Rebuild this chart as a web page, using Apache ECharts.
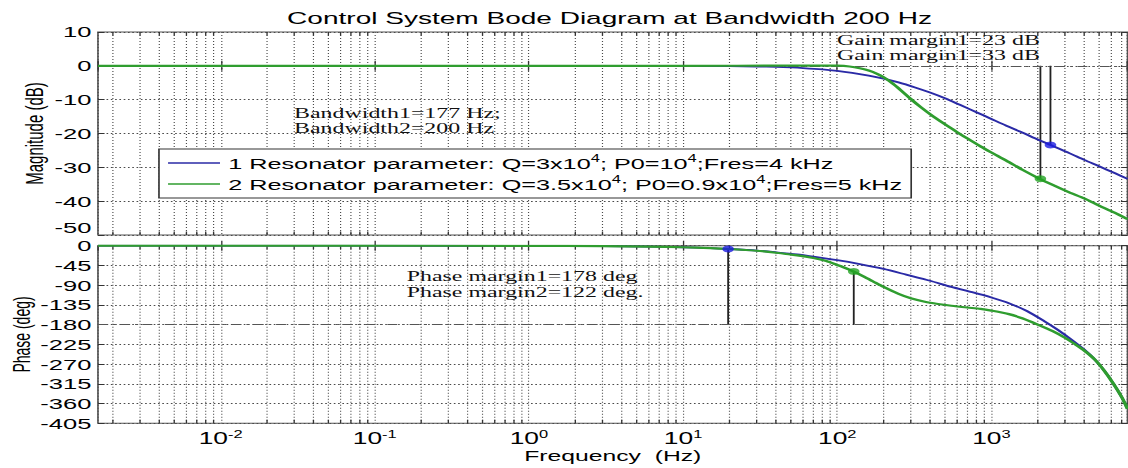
<!DOCTYPE html>
<html>
<head>
<meta charset="utf-8">
<script src="https://cdn.jsdelivr.net/npm/echarts@6/dist/echarts.min.js"></script>
<style>
html,body{margin:0;padding:0;background:#fff;overflow:hidden;}
#wrap{width:1128px;height:468px;overflow:hidden;position:relative;background:#fff;}
#chart{width:684px;height:468px;transform:scaleX(1.6491228);transform-origin:0 0;}
</style>
</head>
<body>
<div id="wrap"><div id="chart"></div></div>
<script>
// ---------------- data ----------------
const titleText = 'Control System Bode Diagram at Bandwidth 200 Hz';
const seriesNames = [
  '1 Resonator parameter: Q=3x10^4; P0=10^4;Fres=4 kHz',
  '2 Resonator parameter: Q=3.5x10^4; P0=0.9x10^4;Fres=5 kHz'
];
const freqRange = [0.0016, 7640];          // Hz
const magRange = [-50, 10];                // dB
const magStep = 10;
const phaseRange = [-405, 0];              // deg
const phaseStep = 45;

const freqMagBlue = [0.0016, 0.1, 1, 10, 20, 30, 40, 50, 60, 80, 100, 125, 160, 200, 250, 320, 400, 500, 630, 800, 1000, 1250, 1600, 2000, 2500, 3200, 4000, 5000, 6300, 7640];
const magBlue =     [0, 0, 0, -0.04, -0.1, -0.2, -0.33, -0.48, -0.66, -1.05, -1.5, -2.1, -2.9, -3.8, -4.9, -6.4, -7.9, -9.6, -11.6, -13.7, -15.7, -17.7, -19.8, -21.8, -23.7, -25.8, -27.8, -29.7, -31.7, -33.4];

const freqMagGreen = [0.0016, 0.1, 1, 10, 50, 80, 100, 120, 140, 160, 180, 200, 230, 260, 300, 350, 420, 500, 600, 700, 850, 1000, 1250, 1600, 2000, 2500, 3200, 4000, 5000, 6300, 7640];
const magGreen =     [0, 0, 0, 0, 0.05, 0.1, 0.05, -0.2, -0.7, -1.4, -2.3, -3.4, -5.3, -7.3, -9.8, -12.3, -15.0, -17.3, -19.6, -21.5, -23.8, -25.6, -28.0, -30.8, -33.1, -35.2, -37.4, -39.2, -41.3, -43.4, -45.3];

const freqPhaseBlue = [0.0016, 0.1, 1, 3, 6, 10, 15, 20, 30, 40, 55, 70, 100, 140, 200, 280, 400, 550, 750, 1000, 1300, 1700, 2200, 2700, 3300, 4000, 4700, 5400, 6200, 7000, 7640];
const phaseBlue =     [0, 0, -0.3, -1, -2, -3.5, -5.5, -7.5, -11, -15, -20, -25, -33, -42, -53, -66, -80, -94, -106, -118, -131, -149, -172, -192, -214, -237, -260, -285, -315, -345, -372];

const freqPhaseGreen = [0.0016, 0.1, 1, 3, 6, 10, 15, 20, 30, 40, 55, 70, 85, 100, 115, 130, 150, 170, 200, 250, 300, 370, 450, 550, 700, 850, 1000, 1300, 1600, 2000, 2500, 3000, 3500, 4000, 4700, 5400, 6200, 7000, 7640];
const phaseGreen =     [0, 0, -0.3, -1, -2, -3.5, -5.5, -7.5, -11.5, -16, -22, -28, -35, -44, -52, -60, -71, -81, -94, -110, -120, -128, -133, -137, -141, -144, -148, -156, -166, -180, -195, -210, -225, -239, -260, -285, -315, -345, -372];

// gain margin points (freq, dB) and phase margin points (freq, deg)
const gmFreq = [2417, 2080];
const gmMag = [-23.4, -33.4];
const pmFreq = [19.6, 128];
const pmPhase = [-7.5, -59];
const refMag = 0;
const refPhase = -180;

const annGain = ['Gain margin1=23 dB', 'Gain margin1=33 dB'];
const annBw = ['Bandwidth1=177 Hz;', 'Bandwidth2=200 Hz'];
const annPm = ['Phase margin1=178 deg', 'Phase margin2=122 deg.'];

// ---------------- style ----------------
const BLUE = '#2a2aa6', GREEN = '#2f9d2f';
const BLUE_M = '#1c1ce0', GREEN_M = '#22a322';
const SANS = '"Liberation Sans", Arial, Helvetica, sans-serif';
const SERIF = '"Liberation Serif", "Times New Roman", serif';
const GRIDC = '#4a4a4a';

const minorFreqs = [];
for (let e = -3; e <= 3; e++) for (let k = 2; k <= 9; k++) {
  const f = k * Math.pow(10, e);
  if (f > freqRange[0] && f < freqRange[1]) minorFreqs.push(f);
}
const zip = (xs, ys) => xs.map((x, i) => [x, ys[i]]);

const chart = echarts.init(document.getElementById('chart'), null, {renderer: 'svg'});

function xAxisDef(gridIndex, pos, withLabels) {
  return {
    type: 'log', logBase: 10, gridIndex, position: pos,
    min: freqRange[0], max: freqRange[1],
    axisLine: {show: false},
    axisTick: {show: true, inside: true, length: 5, lineStyle: {color: '#333', width: 0.8}},
    splitLine: {show: pos === 'bottom', lineStyle: {color: GRIDC, width: 0.7, type: [1, 2]}},
    axisLabel: withLabels ? {
      show: true, margin: 6, color: '#000',
      showMinLabel: false, showMaxLabel: false,
      formatter: v => {
        const e = Math.log10(v), r = Math.round(e);
        if (Math.abs(e - r) > 1e-6) return '';
        return '{b|10}{s|' + r + '}';
      },
      rich: {
        b: {fontSize: 16, fontFamily: SANS, color: '#000', lineHeight: 18},
        s: {fontSize: 10, fontFamily: SANS, color: '#000', lineHeight: 10, verticalAlign: 'top'}
      }
    } : {show: false},
    name: withLabels ? 'Frequency  (Hz)' : '',
    nameLocation: 'middle', nameGap: 25, nameMoveOverlap: false,
    nameTextStyle: {fontSize: 15, fontFamily: SANS, color: '#000'}
  };
}

function yAxisDef(gridIndex, pos, range, step, name, nameGap, nameSize, extraLabel) {
  const left = pos === 'left';
  return {
    type: 'value', gridIndex, position: pos,
    min: range[0], max: range[1], interval: step,
    axisLine: {show: false},
    axisTick: {show: true, inside: true, length: 4, lineStyle: {color: '#333', width: 1}},
    splitLine: {show: left, lineStyle: {color: GRIDC, width: 1, type: [1, 1.6]}},
    axisLabel: left ? Object.assign({show: true, fontSize: 15.5, fontFamily: SANS, color: '#000', margin: 4}, extraLabel || {}) : {show: false},
    name: left ? name : '',
    nameLocation: 'middle', nameGap: nameGap, nameRotate: 90, nameMoveOverlap: false,
    nameTextStyle: {fontSize: nameSize, fontFamily: SANS, color: '#000'}
  };
}

function minorSeries(xi, yi) {
  return {
    type: 'custom', xAxisIndex: xi, yAxisIndex: yi, silent: true, z: 1,
    data: minorFreqs.map(f => [f, 0]),
    renderItem: (params, api) => {
      const x = api.coord([api.value(0), 0])[0];
      const cs = params.coordSys;
      return {type: 'group', children: [
        {type: 'line', shape: {x1: x, y1: cs.y, x2: x, y2: cs.y + cs.height},
          style: {stroke: GRIDC, lineWidth: 0.7, lineDash: [1, 2]}},
        {type: 'line', shape: {x1: x, y1: cs.y, x2: x, y2: cs.y + 3.5}, style: {stroke: '#333', lineWidth: 0.8}},
        {type: 'line', shape: {x1: x, y1: cs.y + cs.height - 3.5, x2: x, y2: cs.y + cs.height}, style: {stroke: '#333', lineWidth: 0.8}}
      ]};
    }
  };
}

function curve(name, xi, yi, xs, ys, color, width) {
  return {
    name, type: 'line', xAxisIndex: xi, yAxisIndex: yi,
    data: zip(xs, ys), symbol: 'none', showSymbol: false,
    smooth: 0.25,
    lineStyle: {color, width}, itemStyle: {color}, z: 5, silent: true
  };
}
function stem(xi, yi, f, y0, y1) {
  return {
    type: 'line', xAxisIndex: xi, yAxisIndex: yi, data: [[f, y0], [f, y1]],
    symbol: 'none', lineStyle: {color: '#222', width: 1.1}, z: 4, silent: true
  };
}
function marker(xi, yi, f, y, color) {
  return {
    type: 'scatter', xAxisIndex: xi, yAxisIndex: yi, data: [[f, y]],
    symbol: 'circle', symbolSize: 7, itemStyle: {color}, z: 7, silent: true
  };
}
const refLine = (val) => ({
  silent: true, symbol: 'none', label: {show: false},
  lineStyle: {color: '#555', width: 1, type: [6, 3, 1.5, 3]},
  data: [{yAxis: val}]
});
const sup = name => name.replace(/\^(\d+)/g, '{s|$1}');

const blueMag = curve(seriesNames[0], 0, 0, freqMagBlue, magBlue, BLUE, 1.8);
blueMag.markLine = refLine(refMag);
const bluePh = curve(seriesNames[0], 2, 2, freqPhaseBlue, phaseBlue, BLUE, 1.8);
bluePh.markLine = refLine(refPhase);

const txt = (text, x, y, font, size, align) => ({
  type: 'text', x, y, silent: true, z: 30,
  style: {text, fontSize: size, fontFamily: font, fill: '#111', align: align || 'left', verticalAlign: 'middle'}
});

const gridBase = {left: 59.4, right: 0.3, show: true, borderColor: '#555', borderWidth: 1,
  backgroundColor: '#fff', containLabel: false, outerBoundsMode: 'none'};

const option = {
  backgroundColor: '#fff',
  animation: false,
  grid: [
    Object.assign({top: 32, height: 203}, gridBase),
    Object.assign({top: 245.7, height: 177.6}, gridBase)
  ],
  xAxis: [
    xAxisDef(0, 'bottom', false),
    xAxisDef(0, 'top', false),
    xAxisDef(1, 'bottom', true),
    xAxisDef(1, 'top', false)
  ],
  yAxis: [
    yAxisDef(0, 'left', magRange, magStep, 'Magnitude (dB)', 31.3, 15, {verticalAlignMinLabel: 'bottom'}),
    yAxisDef(0, 'right', magRange, magStep, '', 0, 15),
    yAxisDef(1, 'left', phaseRange, phaseStep, 'Phase (deg)', 39, 14),
    yAxisDef(1, 'right', phaseRange, phaseStep, '', 0, 14)
  ],
  legend: {
    data: seriesNames, orient: 'vertical', left: 96.4, top: 149,
    padding: [5, 5.5, 5, 5.5], itemGap: 3,
    itemWidth: 31.5, itemHeight: 1.3, icon: 'rect',
    backgroundColor: '#fff', borderColor: '#333', borderWidth: 1,
    formatter: sup,
    textStyle: {
      fontSize: 15.3, fontFamily: SANS, color: '#000', lineHeight: 18,
      rich: {s: {fontSize: 10, fontFamily: SANS, color: '#000', lineHeight: 10, verticalAlign: 'top'}}
    },
    selectedMode: false, z: 20
  },
  graphic: [
    {type: 'text', x: 369.6, y: 18.5, silent: true,
      style: {text: titleText, fontSize: 17, fontFamily: SANS, fill: '#000', align: 'center', verticalAlign: 'middle'}},
    txt(annGain[0], 507.5, 40, SERIF, 14.5),
    txt(annGain[1], 507.5, 55, SERIF, 14.5),
    txt(annBw[0], 178.3, 112.7, SERIF, 14.5),
    txt(annBw[1], 178.3, 127.7, SERIF, 14.5),
    txt(annPm[0], 246.6, 276, SERIF, 14.5),
    txt(annPm[1], 246.6, 291.7, SERIF, 14.5)
  ],
  series: [
    minorSeries(0, 0),
    minorSeries(2, 2),
    blueMag,
    curve(seriesNames[1], 0, 0, freqMagGreen, magGreen, GREEN, 2.2),
    bluePh,
    curve(seriesNames[1], 2, 2, freqPhaseGreen, phaseGreen, GREEN, 2.2),
    stem(0, 0, gmFreq[0], refMag, gmMag[0]),
    stem(0, 0, gmFreq[1], refMag, gmMag[1]),
    stem(2, 2, pmFreq[0], refPhase, pmPhase[0]),
    stem(2, 2, pmFreq[1], refPhase, pmPhase[1]),
    marker(0, 0, gmFreq[0], gmMag[0], BLUE_M),
    marker(0, 0, gmFreq[1], gmMag[1], GREEN_M),
    marker(2, 2, pmFreq[0], pmPhase[0], BLUE_M),
    marker(2, 2, pmFreq[1], pmPhase[1], GREEN_M)
  ]
};
chart.setOption(option);
</script>
</body>
</html>
